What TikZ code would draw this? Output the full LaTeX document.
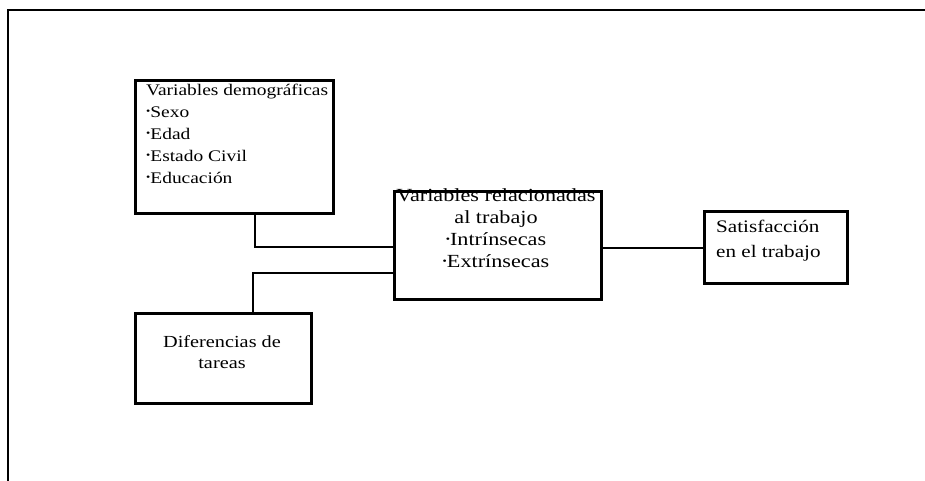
\documentclass[tikz,border=0pt]{standalone}
\usepackage{fontspec}
\setmainfont{Liberation Serif}[FakeStretch=1.2]
\newcommand{\bul}{\raisebox{0.28ex}{\fontsize{10}{10}\selectfont •}}
\begin{document}
\begin{tikzpicture}[x=1pt,y=-1pt,
  box/.style={draw=black, line width=2.8pt, fill=none, inner sep=0pt, anchor=north west},
  txt/.style={inner sep=0pt, font={\fontsize{18.5}{22}\selectfont}},
  link/.style={draw=black, line width=2.8pt},
  thinlink/.style={draw=black, line width=1.9pt}]
\useasboundingbox (0,0) rectangle (925,481);
% frame
\coordinate (fbl) at (8,481);
\coordinate (ftl) at (8,10);
\coordinate (ftr) at (925,10);
\draw[line width=2.4pt] (fbl) -- (ftl) -- (ftr);
% boxes
\node[box, minimum width=198pt, minimum height=133pt] (demo) at (134,79) {};
\node[box, minimum width=207pt, minimum height=108pt] (mid) at (393,190) {};
\node[box, minimum width=143pt, minimum height=72pt] (sat) at (703,210) {};
\node[box, minimum width=176pt, minimum height=90pt] (tar) at (134,312) {};
% texts (anchored at the baseline of the last line)
\node[txt, anchor=base west, align=left, font={\fontsize{16.2}{22}\selectfont}] (demotxt) at (146,183)
  {Variables demográficas\\ \bul Sexo\\ \bul Edad\\ \bul Estado Civil\\ \bul Educación};
\node[txt, anchor=base, align=center] (midtxt) at (496,267)
  {Variables relacionadas\\ al trabajo\\ \bul Intrínsecas\\ \bul Extrínsecas};
\node[txt, anchor=base west, align=left, font={\fontsize{17.6}{25}\selectfont}] (sattxt) at (716,257)
  {Satisfacción\\ en el trabajo};
\node[txt, anchor=base, align=center, font={\fontsize{16.9}{21}\selectfont}] (tartxt) at (222,368)
  {Diferencias de\\ tareas};
% connectors
\coordinate (d1) at (255,247);
\coordinate (t1) at (253,273);
\draw[link] (demo.south -| d1) -- (d1) -- (d1 -| mid.west);
\draw[link] (tar.north -| t1) -- (t1) -- (t1 -| mid.west);
\coordinate (s1) at (600,248);
\draw[thinlink] (s1 -| mid.east) -- (s1 -| sat.west);
\end{tikzpicture}
\end{document}
